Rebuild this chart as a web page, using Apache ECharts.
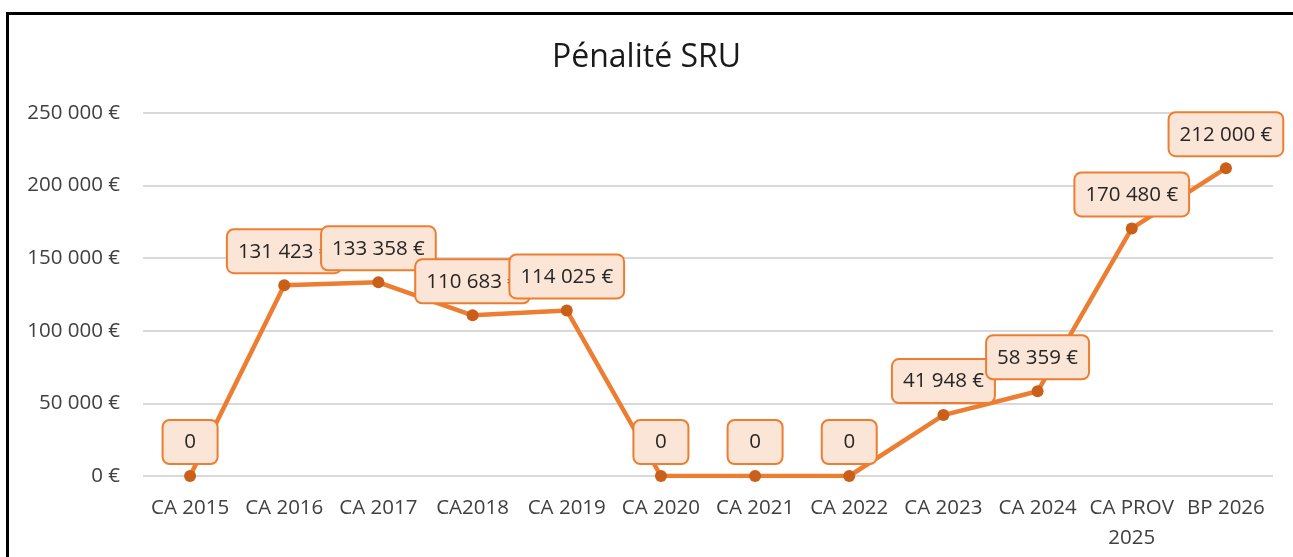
<!DOCTYPE html>
<html>
<head>
<meta charset="utf-8">
<script src="https://cdn.jsdelivr.net/npm/echarts@6/dist/echarts.min.js"></script>
<style>
  html, body { margin: 0; padding: 0; background: #fff; }
  #chart { width: 1293px; height: 557px; }
</style>
</head>
<body>
<div id="chart"></div>
<script>
// Pénalité SRU
var categories = ['CA 2015', 'CA 2016', 'CA 2017', 'CA2018', 'CA 2019', 'CA 2020',
  'CA 2021', 'CA 2022', 'CA 2023', 'CA 2024', 'CA PROV\n2025', 'BP 2026'];
var penalite = [0, 131423, 133358, 110683, 114025, 0, 0, 0, 41948, 58359, 170480, 212000];
var yMin = 0, yMax = 250000, yStep = 50000;

var font = '"Open Sans", sans-serif';
var textColor = '#404040';

// 131423 -> "131 423"
function groupDigits(v) {
  return String(Math.round(v)).replace(/\B(?=(\d{3})+(?!\d))/g, ' ');
}

var chart = echarts.init(document.getElementById('chart'));

// les étiquettes "0" sont plus larges que leur texte
var seriesData = penalite.map(function (v) {
  if (v === 0) {
    return { value: v, label: { width: 33, align: 'center' } };
  }
  return v;
});

chart.setOption({
  animation: false,
  textStyle: { fontFamily: font },
  graphic: [{
    type: 'rect',
    shape: { x: 7.5, y: 13.5, width: 1400, height: 700 },
    style: { fill: 'none', stroke: '#000', lineWidth: 3 },
    silent: true
  }],
  title: {
    text: 'Pénalité SRU',
    left: 'center',
    top: 37,
    textStyle: { fontFamily: font, fontSize: 32, fontWeight: 'normal', color: '#1a1a1a' }
  },
  grid: { left: 143, right: 20, top: 113, bottom: 81 },
  xAxis: {
    type: 'category',
    data: categories,
    boundaryGap: true,
    axisLine: { show: false },
    axisTick: { show: false },
    axisLabel: {
      interval: 0,
      margin: 17,
      fontSize: 20.5,
      lineHeight: 30,
      color: textColor,
      fontFamily: font
    }
  },
  yAxis: {
    type: 'value',
    min: yMin,
    max: yMax,
    interval: yStep,
    axisLine: { show: false },
    axisTick: { show: false },
    splitLine: { lineStyle: { color: '#d9d9d9', width: 2 } },
    axisLabel: {
      margin: 23,
      fontSize: 20.5,
      color: textColor,
      fontFamily: font,
      formatter: function (v) { return groupDigits(v) + ' €'; }
    }
  },
  series: [{
    name: 'Pénalité SRU',
    type: 'line',
    data: seriesData,
    symbol: 'circle',
    symbolSize: 12,
    lineStyle: { color: '#ed7d31', width: 4.5 },
    itemStyle: { color: '#c95f19' },
    label: {
      show: true,
      position: 'top',
      distance: 7,
      fontFamily: font,
      fontSize: 20.5,
      color: '#262626',
      backgroundColor: '#fbe5d6',
      borderColor: '#ed7d31',
      borderWidth: 2,
      borderRadius: 6,
      padding: [11, 10, 10, 10],
      formatter: function (p) {
        return p.value === 0 ? '0' : groupDigits(p.value) + ' €';
      }
    }
  }]
});
</script>
</body>
</html>
